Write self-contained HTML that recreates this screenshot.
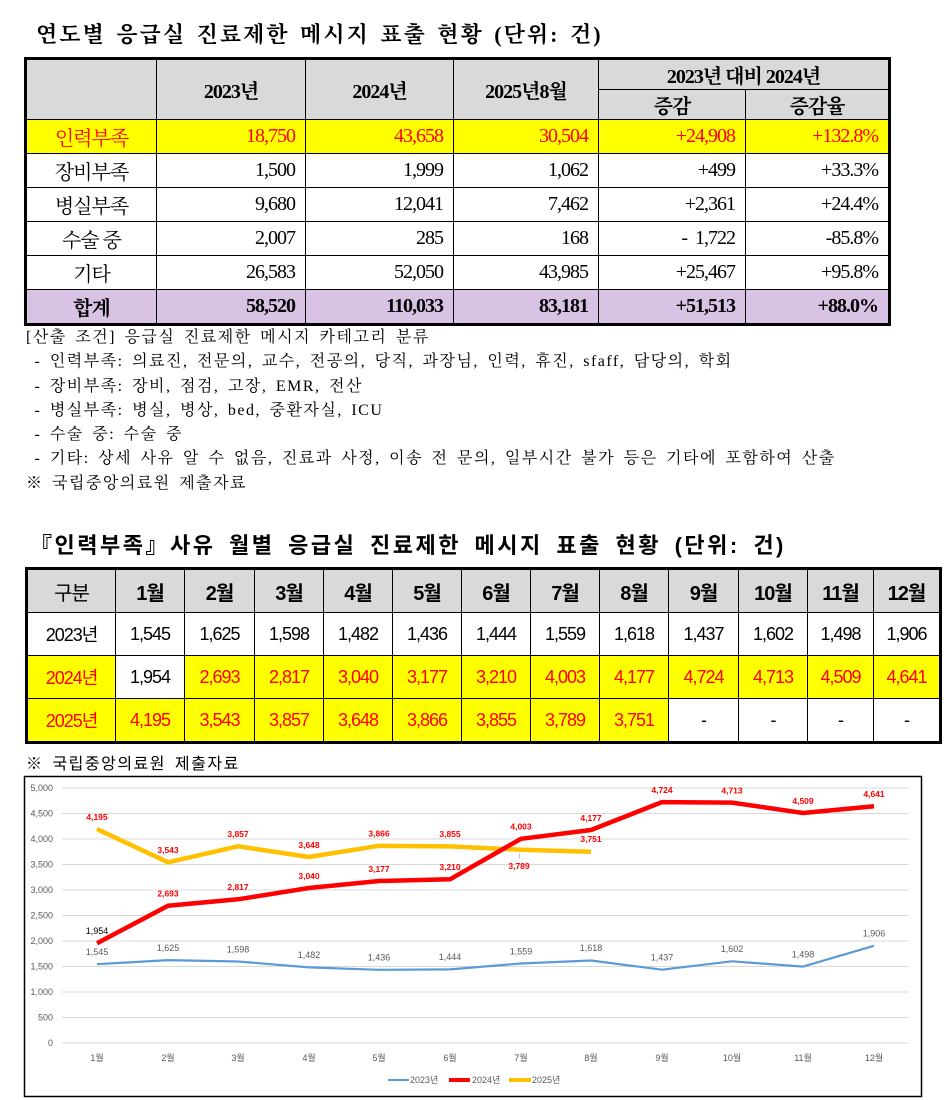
<!DOCTYPE html>
<html><head><meta charset="utf-8"><style>
body{margin:0;width:950px;height:1100px;background:#fff;position:relative;overflow:hidden;font-family:"Liberation Serif","Noto Serif CJK SC",serif;color:#000}
.abs{position:absolute}
.t1{left:36px;top:18px;font-size:22px;font-weight:bold;letter-spacing:2px;word-spacing:3px;white-space:nowrap}
table{border-collapse:collapse;position:absolute;table-layout:fixed}
#a{left:24px;top:57px;border:3px solid #000}
#a td{border:1px solid #000;font-size:20px;text-align:right;padding:0 10px 0 0;height:33px;letter-spacing:-1px}
#a td.c{text-align:center;padding:0}
#a .h td{background:#d9d9d9;text-align:center;padding:0;font-weight:bold;height:27px}
.y td{background:#ffff00;color:#f00}
.p td{background:#d9c3e5;font-weight:bold}
.notes{left:26px;top:326px;font-size:16px;line-height:24.3px;white-space:pre;letter-spacing:1.5px;word-spacing:3px}
.t2{left:30px;top:528px;font-size:22px;font-weight:bold;white-space:nowrap;letter-spacing:2.5px;word-spacing:5px;font-family:"Liberation Sans","Noto Sans CJK KR",sans-serif}
#b{left:25px;top:567px;border:3px solid #000;font-family:"Liberation Sans","Noto Sans CJK KR",sans-serif}
#b td{border:1px solid #000;font-size:18px;text-align:center;height:42px;padding:0;letter-spacing:-1px}
#b tr.h td{background:#d9d9d9;font-weight:bold;font-size:20px}
#b tr.r td{background:#ffff00;color:#f00}
#b tr.r td.w{background:#fff;color:#000}
.src{left:26px;top:750px;font-size:16px;letter-spacing:1.5px;word-spacing:3px;font-family:"Liberation Sans","Noto Sans CJK KR",sans-serif}
</style></head><body>
<div class="abs t1">연도별 응급실 진료제한 메시지 표출 현황 (단위: 건)</div>
<table id="a">
<colgroup><col style="width:131px"><col style="width:149px"><col style="width:148px"><col style="width:145px"><col style="width:147px"><col style="width:144px"></colgroup>
<tr class="h"><td rowspan="2"></td><td rowspan="2">2023년</td><td rowspan="2">2024년</td><td rowspan="2">2025년8월</td><td colspan="2">2023년 대비 2024년</td></tr>
<tr class="h"><td>증감</td><td>증감율</td></tr>
<tr class="y"><td class="c">인력부족</td><td>18,750</td><td>43,658</td><td>30,504</td><td>+24,908</td><td>+132.8%</td></tr>
<tr><td class="c">장비부족</td><td>1,500</td><td>1,999</td><td>1,062</td><td>+499</td><td>+33.3%</td></tr>
<tr><td class="c">병실부족</td><td>9,680</td><td>12,041</td><td>7,462</td><td>+2,361</td><td>+24.4%</td></tr>
<tr><td class="c">수술 중</td><td>2,007</td><td>285</td><td>168</td><td>-&nbsp; 1,722</td><td>-85.8%</td></tr>
<tr><td class="c">기타</td><td>26,583</td><td>52,050</td><td>43,985</td><td>+25,467</td><td>+95.8%</td></tr>
<tr class="p"><td class="c">합계</td><td>58,520</td><td>110,033</td><td>83,181</td><td>+51,513</td><td>+88.0%</td></tr>
</table>
<div class="abs notes">[산출 조건] 응급실 진료제한 메시지 카테고리 분류
 - 인력부족: 의료진, 전문의, 교수, 전공의, 당직, 과장님, 인력, 휴진, sfaff, 담당의, 학회
 - 장비부족: 장비, 점검, 고장, EMR, 전산
 - 병실부족: 병실, 병상, bed, 중환자실, ICU
 - 수술 중: 수술 중
 - 기타: 상세 사유 알 수 없음, 진료과 사정, 이송 전 문의, 일부시간 불가 등은 기타에 포함하여 산출
※ 국립중앙의료원 제출자료</div>
<div class="abs t2">『인력부족』사유 월별 응급실 진료제한 메시지 표출 현황 (단위: 건)</div>
<table id="b">
<colgroup><col style="width:89px"><col style="width:69px"><col style="width:70px"><col style="width:69px"><col style="width:69px"><col style="width:69px"><col style="width:69px"><col style="width:69px"><col style="width:69px"><col style="width:70px"><col style="width:69px"><col style="width:66px"><col style="width:67px"></colgroup>
<tr class="h"><td style="font-weight:normal">구분</td><td>1월</td><td>2월</td><td>3월</td><td>4월</td><td>5월</td><td>6월</td><td>7월</td><td>8월</td><td>9월</td><td>10월</td><td>11월</td><td>12월</td></tr>
<tr><td>2023년</td><td>1,545</td><td>1,625</td><td>1,598</td><td>1,482</td><td>1,436</td><td>1,444</td><td>1,559</td><td>1,618</td><td>1,437</td><td>1,602</td><td>1,498</td><td>1,906</td></tr>
<tr class="r"><td>2024년</td><td class="w">1,954</td><td>2,693</td><td>2,817</td><td>3,040</td><td>3,177</td><td>3,210</td><td>4,003</td><td>4,177</td><td>4,724</td><td>4,713</td><td>4,509</td><td>4,641</td></tr>
<tr class="r"><td>2025년</td><td>4,195</td><td>3,543</td><td>3,857</td><td>3,648</td><td>3,866</td><td>3,855</td><td>3,789</td><td>3,751</td><td class="w">-</td><td class="w">-</td><td class="w">-</td><td class="w">-</td></tr>
</table>
<div class="abs src">※ 국립중앙의료원 제출자료</div>
<svg class="abs" style="left:0;top:0" width="950" height="1100" font-family="Liberation Sans, Noto Sans CJK KR, sans-serif">
<rect x="24.5" y="776.5" width="897" height="320" fill="none" stroke="#000" stroke-width="1.5"/>
<g stroke="#d9d9d9" stroke-width="1">
<line x1="62" x2="909" y1="788" y2="788"/><line x1="62" x2="909" y1="813.5" y2="813.5"/><line x1="62" x2="909" y1="839" y2="839"/><line x1="62" x2="909" y1="864.5" y2="864.5"/><line x1="62" x2="909" y1="890" y2="890"/><line x1="62" x2="909" y1="915.5" y2="915.5"/><line x1="62" x2="909" y1="941" y2="941"/><line x1="62" x2="909" y1="966.5" y2="966.5"/><line x1="62" x2="909" y1="992" y2="992"/><line x1="62" x2="909" y1="1017.5" y2="1017.5"/><line x1="62" x2="909" y1="1043" y2="1043"/>
</g>
<g font-size="9" fill="#595959" text-anchor="end">
<text x="53" y="791">5,000</text><text x="53" y="816.5">4,500</text><text x="53" y="842">4,000</text><text x="53" y="867.5">3,500</text><text x="53" y="893">3,000</text><text x="53" y="918.5">2,500</text><text x="53" y="944">2,000</text><text x="53" y="969.5">1,500</text><text x="53" y="995">1,000</text><text x="53" y="1020.5">500</text><text x="53" y="1046">0</text>
</g>
<g font-size="9" fill="#595959" text-anchor="middle">
<text x="97" y="1061">1월</text><text x="168" y="1061">2월</text><text x="238" y="1061">3월</text><text x="309" y="1061">4월</text><text x="379" y="1061">5월</text><text x="450" y="1061">6월</text><text x="521" y="1061">7월</text><text x="591" y="1061">8월</text><text x="662" y="1061">9월</text><text x="732" y="1061">10월</text><text x="803" y="1061">11월</text><text x="874" y="1061">12월</text>
</g>
<polyline fill="none" stroke="#5b9bd5" stroke-width="2.2" stroke-linejoin="round" points="97,964.2 168,960.1 238,961.5 309,967.4 379,969.8 450,969.4 521,963.5 591,960.5 662,969.7 732,961.3 803,966.6 874,945.8"/>
<polyline fill="none" stroke="#ffc000" stroke-width="4.5" stroke-linejoin="round" points="97,829.1 168,862.3 238,846.3 309,857 379,845.8 450,846.4 521,849.8 591,851.7"/>
<polyline fill="none" stroke="#ff0000" stroke-width="4.5" stroke-linejoin="round" points="97,943.3 168,905.7 238,899.3 309,888 379,881 450,879.3 521,838.8 591,830 662,802.1 732,802.6 803,813 874,806.3"/>
<g font-size="9" fill="#595959" text-anchor="middle">
<text x="97" y="955">1,545</text><text x="168" y="951">1,625</text><text x="238" y="952.5">1,598</text><text x="309" y="958">1,482</text><text x="379" y="960.5">1,436</text><text x="450" y="960">1,444</text><text x="521" y="954.5">1,559</text><text x="591" y="951">1,618</text><text x="662" y="960.5">1,437</text><text x="732" y="952">1,602</text><text x="803" y="957.5">1,498</text><text x="874" y="936.5">1,906</text>
</g>
<text x="97" y="934" font-size="9" fill="#000" text-anchor="middle">1,954</text>
<g font-size="8.5" font-weight="bold" fill="#ff0000" text-anchor="middle">
<text x="168" y="896.5">2,693</text><text x="238" y="890">2,817</text><text x="309" y="879">3,040</text><text x="379" y="872">3,177</text><text x="450" y="870">3,210</text><text x="521" y="829.5">4,003</text><text x="591" y="821">4,177</text><text x="662" y="793">4,724</text><text x="732" y="793.5">4,713</text><text x="803" y="804">4,509</text><text x="874" y="797">4,641</text>
<text x="97" y="820">4,195</text><text x="168" y="853">3,543</text><text x="238" y="837">3,857</text><text x="309" y="848">3,648</text><text x="379" y="836.5">3,866</text><text x="450" y="837">3,855</text><text x="519" y="869">3,789</text><text x="591" y="842">3,751</text>
</g>
<line x1="520" y1="853" x2="519" y2="859" stroke="#999" stroke-width="0.6"/>
<line x1="388" x2="409" y1="1080" y2="1080" stroke="#5b9bd5" stroke-width="2"/>
<line x1="449" x2="470" y1="1080" y2="1080" stroke="#ff0000" stroke-width="4"/>
<line x1="509" x2="531" y1="1080" y2="1080" stroke="#ffc000" stroke-width="4"/>
<g font-size="9" fill="#595959"><text x="410" y="1083">2023년</text><text x="472" y="1083">2024년</text><text x="532" y="1083">2025년</text></g>
</svg>
</body></html>
